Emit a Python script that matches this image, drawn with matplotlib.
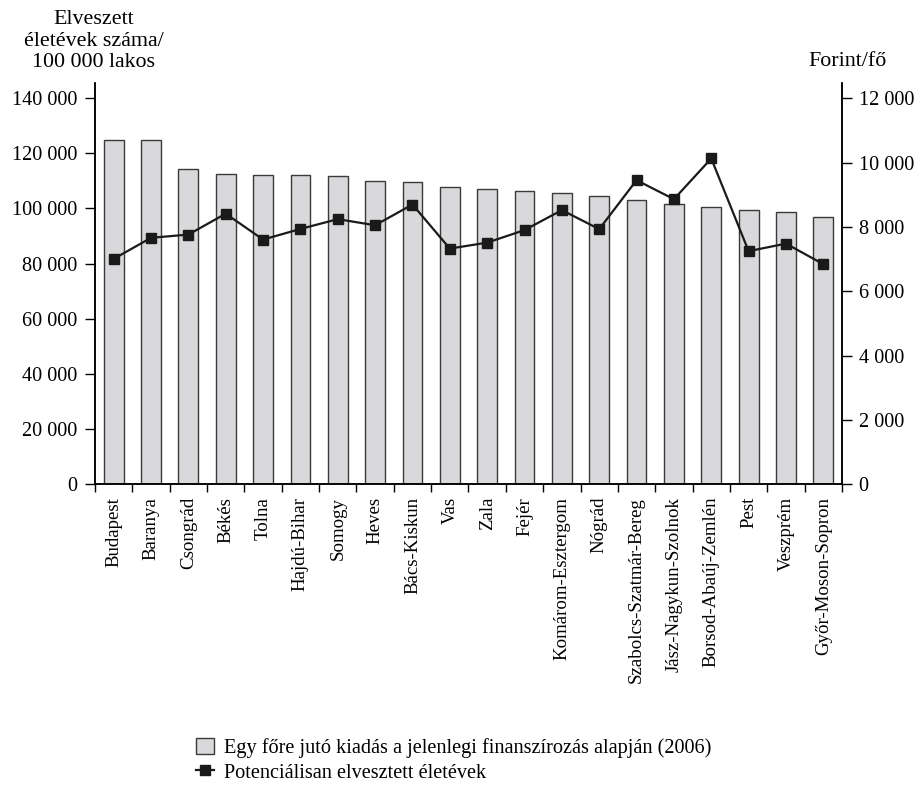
import numpy as np
import matplotlib.pyplot as plt
from matplotlib.ticker import FuncFormatter, FixedLocator

plt.rcParams['font.family'] = ['Liberation Serif', 'DejaVu Serif']

megyek = ['Budapest', 'Baranya', 'Csongrád', 'Békés', 'Tolna', 'Hajdú-Bihar',
          'Somogy', 'Heves', 'Bács-Kiskun', 'Vas', 'Zala', 'Fejér',
          'Komárom-Esztergom', 'Nógrád', 'Szabolcs-Szatmár-Bereg',
          'Jász-Nagykun-Szolnok', 'Borsod-Abaúj-Zemlén', 'Pest', 'Veszprém',
          'Győr-Moson-Sopron']
kiadas = [125000, 124700, 114400, 112450, 112300, 112100, 111950, 110100,
          109650, 107950, 107200, 106500, 105550, 104700, 103250, 101550,
          100450, 99500, 98650, 97050]
elveszett = [7005, 7660, 7760, 8410, 7605, 7935, 8240, 8050, 8695, 7325,
             7510, 7900, 8520, 7930, 9450, 8860, 10125, 7245, 7480, 6840]

fs_tick = 14.6
fs_x = 13.6
fs_title = 15.8
fs_leg = 14.6


def fmt(v, pos):
    return '{:,.0f}'.format(v).replace(',', ' ')


fig = plt.figure(figsize=(9.17, 7.88), dpi=100)
ax = fig.add_axes([0.1036, 0.3854, 0.8146, 0.5093])
ax2 = ax.twinx()

x = np.arange(len(megyek))
bars = ax.bar(x, kiadas, width=0.53, color='#d9d9db', edgecolor='#3a3a3a',
              linewidth=1.0, zorder=2)
line, = ax2.plot(x, elveszett, color='#1a1a1a', lw=1.6, marker='s',
                 markersize=6.5, zorder=3)

ax.set_xlim(-0.5, 19.5)
ax.set_ylim(0, 145500)
ax2.set_ylim(0, 145500 / 140000 * 12000)
ax.set_yticks(np.arange(0, 140001, 20000))
ax2.set_yticks(np.arange(0, 12001, 2000))
ax.yaxis.set_major_formatter(FuncFormatter(fmt))
ax2.yaxis.set_major_formatter(FuncFormatter(fmt))

ax.set_xticks(x)
ax.set_xticklabels(megyek, rotation=90, fontsize=fs_x)
ax.xaxis.set_minor_locator(FixedLocator(np.arange(-0.5, 20, 1)))
ax.tick_params(axis='x', which='major', length=0, pad=9)
ax.tick_params(axis='x', which='minor', length=6, width=1, direction='out')
ax.tick_params(axis='y', labelsize=fs_tick, length=7, width=1, pad=6)
ax2.tick_params(axis='y', labelsize=fs_tick, length=7, width=1, pad=5)

for a in (ax, ax2):
    a.spines['top'].set_visible(False)
    for s in ('left', 'right', 'bottom'):
        a.spines[s].set_linewidth(1.1)

fig.text(94 / 917, 1 - 41 / 788,
         'Elveszett\néletévek száma/\n100 000 lakos', ha='center',
         va='center', fontsize=fs_title, linespacing=1.2)
fig.text(847 / 917, 1 - 62 / 788, 'Forint/fő', ha='center', va='center',
         fontsize=fs_title)

fig.legend([bars, line],
           ['Egy főre jutó kiadás a jelenlegi finanszírozás alapján (2006)',
            'Potenciálisan elvesztett életévek'],
           loc='upper left', bbox_to_anchor=(196 / 917, 1 - 738 / 788),
           frameon=False, fontsize=fs_leg, handlelength=0.9, handleheight=0.8,
           handletextpad=0.5, labelspacing=0.25, numpoints=1,
           borderaxespad=0, borderpad=0)

fig.savefig('out.png', dpi=100)
